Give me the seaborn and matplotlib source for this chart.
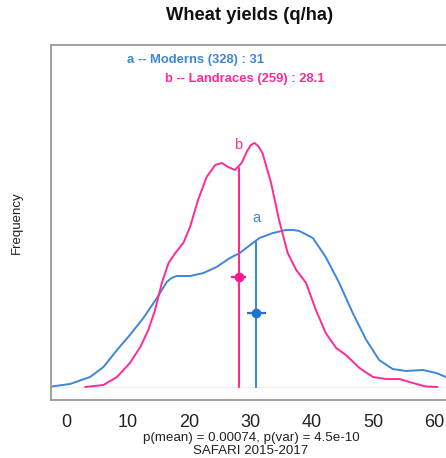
import matplotlib
matplotlib.use('Agg')
import matplotlib.pyplot as plt
import seaborn as sns
import pandas as pd

# ---- data ----
moderns_x = [-2.6, 0.65, 3.9, 6.1, 8.3, 10.4, 12.6, 14.8, 16.4, 17.2, 18.0, 20.2, 22.4, 24.5,
             26.7, 28.3, 30.0, 31.5, 33.7, 35.8, 37.0, 38.0, 40.2, 42.3, 44.5, 46.7, 48.9,
             51.0, 53.2, 55.4, 58.1, 60.3, 61.9, 64.0]
moderns_y = [0.3, 3, 10, 20, 37, 52, 69, 89, 105, 109, 111, 111, 114, 120,
             129, 134, 142, 149, 154, 157, 157, 156, 149, 130, 104, 74, 47,
             27, 18, 16, 17, 14, 10, 6]
landraces_x = [3.1, 6.1, 8.3, 10.4, 12.1, 13.4, 14.5, 15.6, 16.7, 17.8, 19.1, 20.2, 21.5,
               22.9, 24.3, 25.4, 26.4, 27.5, 28.6, 29.5, 30.1, 30.7, 31.3, 32.0, 33.4, 34.7, 36.1,
               37.5, 39.1, 40.7, 42.3, 44.0, 45.6, 47.8, 50.0, 52.1, 54.3, 56.5, 58.6, 60.5]
landraces_y = [0, 2, 10, 24, 40, 57, 77, 104, 124, 134, 144, 160, 187,
               210, 222, 224, 220, 217, 224, 236, 242, 244, 241, 234, 204, 167, 134,
               117, 104, 77, 54, 39, 32, 19, 10, 8, 8, 4, 0.5, 0]
means = {"Moderns": 31.0, "Landraces": 28.1}
counts = {"Moderns": 328, "Landraces": 259}
letters = {"Moderns": "a", "Landraces": "b"}
mean_curve_height = {"Moderns": 146, "Landraces": 219}
point_height = {"Moderns": 74, "Landraces": 110}
ci_half = {"Moderns": 1.5, "Landraces": 1.2}
label_height = {"Moderns": 169, "Landraces": 242}
xticks = [0, 10, 20, 30, 40, 50, 60]
SCALE = 1e-4

colors = {"Moderns": "#3c87d6", "Landraces": "#ff2a93"}
dot_colors = {"Moderns": "#1f72cf", "Landraces": "#ff1a8c"}

df = pd.concat([
    pd.DataFrame({"x": moderns_x, "y": [v * SCALE for v in moderns_y], "grp": "Moderns"}),
    pd.DataFrame({"x": landraces_x, "y": [v * SCALE for v in landraces_y], "grp": "Landraces"}),
])

sns.set_style("white")
plt.rcParams['font.family'] = ['Liberation Sans', 'DejaVu Sans']

W, H = 446, 458
fig = plt.figure(figsize=(W / 100, H / 100), dpi=100)
ax = fig.add_axes([51 / W, (H - 400) / H, (470 - 51) / W, (400 - 45) / H])

ax.axhline(0, color="#eeeeee", lw=0.8, zorder=0)
sns.lineplot(data=df, x="x", y="y", hue="grp", palette=colors, sort=False,
             estimator=None, lw=1.4, legend=False, ax=ax)
for line in ax.lines:
    line.set_solid_joinstyle('round')

for g in ["Moderns", "Landraces"]:
    m = means[g]
    ax.plot([m, m], [0, mean_curve_height[g] * SCALE], color=colors[g], lw=1.5)
    ax.errorbar([m], [point_height[g] * SCALE], xerr=[ci_half[g]], fmt='o',
                color=dot_colors[g], ms=6, elinewidth=1.6, capsize=0)
    ax.text(m, label_height[g] * SCALE, letters[g], color=colors[g], fontsize=10.5,
            ha='center', va='center')

ax.set_xlim(-2.45, 65.8)
ax.set_ylim(-13 * SCALE, 342 * SCALE)
ax.set_xticks(xticks)
ax.set_xticklabels([str(t) for t in xticks], fontsize=13, color="#222222")
ax.set_yticks([])
ax.set_xlabel("")
ax.set_ylabel("Frequency", fontsize=9.5, color="#222222")
ax.yaxis.set_label_coords(-0.068, 0.5)
ax.tick_params(axis='x', direction='out', length=7, width=1.2, color="#555555", pad=3)
for s in ["left", "top", "bottom"]:
    ax.spines[s].set_color("#999999")
    ax.spines[s].set_linewidth(1.3)
ax.spines["right"].set_visible(False)

fig.text(250 / W, 1 - 16 / H, "Wheat yields (q/ha)", ha='center', va='center',
         fontsize=13.2, fontweight='bold', color="#111111")
fig.text(127 / W, 1 - 60 / H, "a -- Moderns (%d) : %g" % (counts["Moderns"], means["Moderns"]),
         color=colors["Moderns"], fontsize=9.4, fontweight='bold', ha='left', va='center')
fig.text(165 / W, 1 - 79 / H, "b -- Landraces (%d) : %g" % (counts["Landraces"], means["Landraces"]),
         color=colors["Landraces"], fontsize=9.4, fontweight='bold', ha='left', va='center')
fig.text(251 / W, 1 - 438 / H, "p(mean) = 0.00074, p(var) = 4.5e-10", ha='center', va='center',
         fontsize=9.6, color="#222222")
fig.text(251 / W, 1 - 451 / H, "SAFARI 2015-2017", ha='center', va='center',
         fontsize=9.6, color="#222222")

fig.savefig("out.png", dpi=100)
